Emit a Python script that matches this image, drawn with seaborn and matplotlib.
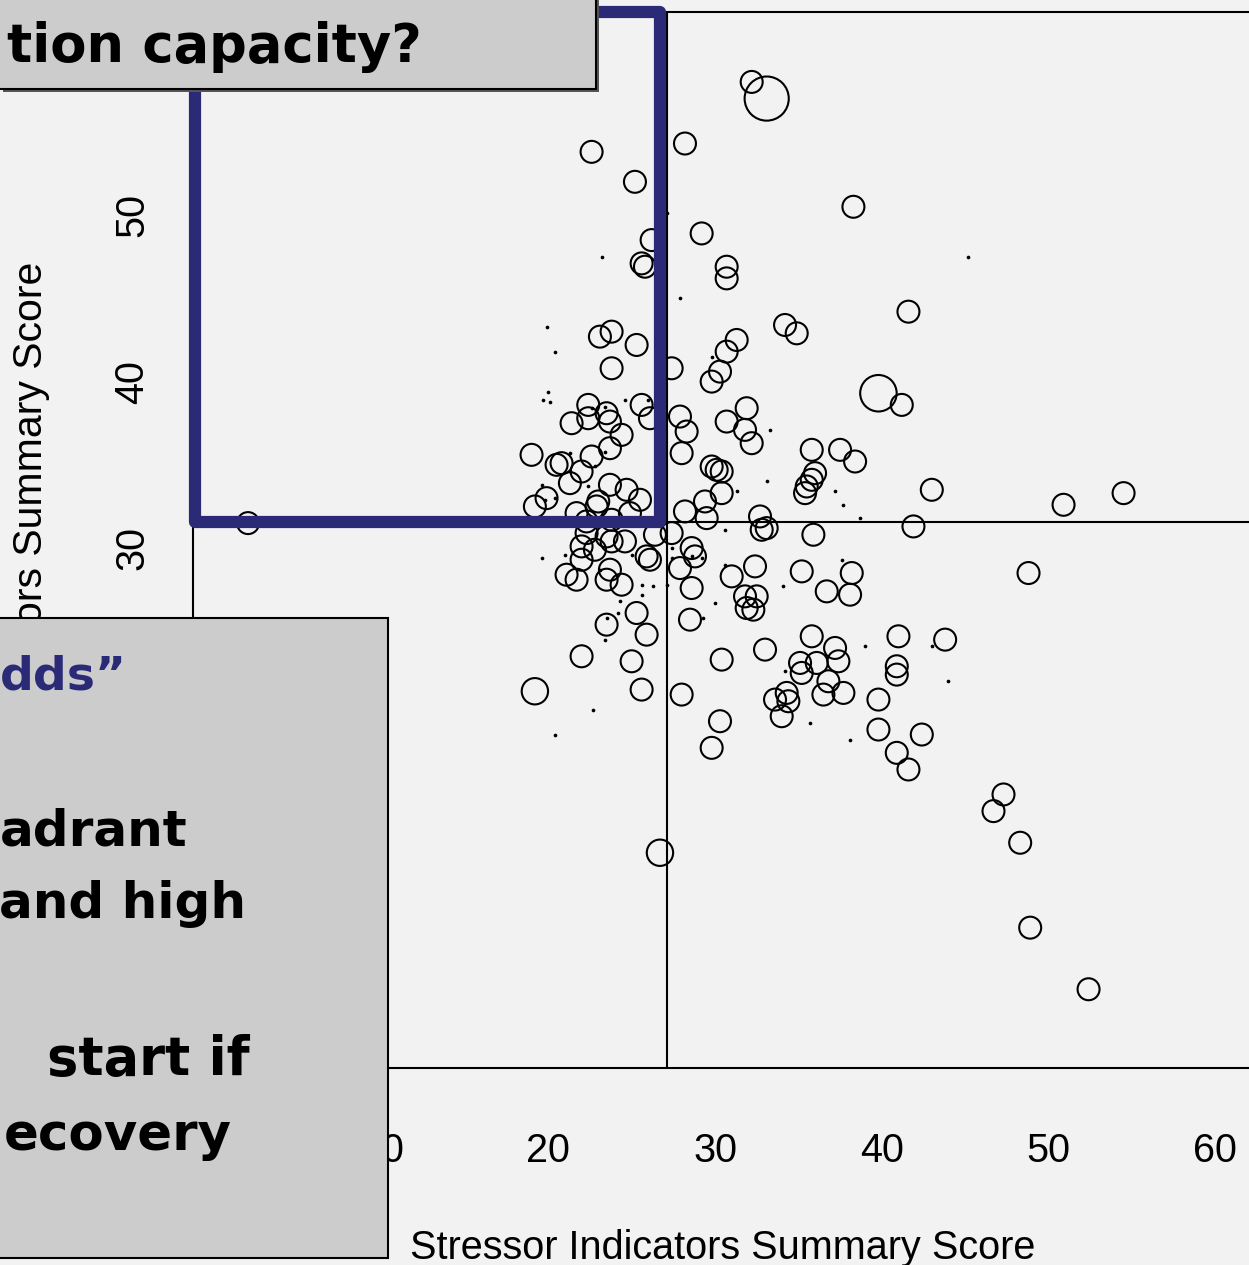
import matplotlib
matplotlib.use("Agg")
import matplotlib.pyplot as plt
import seaborn as sns
import pandas as pd
from matplotlib.patches import Rectangle

# ---------------- data ----------------
circ_x = [32.2, 33.1, 28.2, 22.6, 25.2, 38.3, 29.2, 26.2, 25.6, 25.8, 30.7, 30.7, 41.6, 34.2, 34.9,
          23.1, 23.8, 25.3, 31.3, 30.7, 23.8, 27.4, 30.3, 29.8, 39.8, 41.2, 25.6, 26.1, 22.4, 21.4,
          22.4, 23.5, 23.7, 24.4, 23.7, 27.9, 28.3, 28.0, 19.0, 20.5, 20.8, 22.6, 22.0, 31.9, 30.7,
          31.8, 32.2, 35.8, 37.5, 38.4, 36.0, 35.8, 35.5, 35.4, 29.8, 30.1, 30.4, 30.4, 29.4, 29.5,
          32.7, 32.8, 33.1, 35.9, 43.0, 41.9, 50.9, 54.5, 48.8, 43.8, 41.0, 40.9, 40.9, 39.8, 39.8,
          42.4, 40.9, 41.6, 47.3, 46.7, 48.3, 48.9, 52.4, 35.8, 37.2, 37.4, 33.0, 35.1, 35.2, 36.1,
          36.8, 36.5, 37.7, 34.3, 33.6, 34.4, 34.0, 30.4, 30.3, 29.8, 28.0, 26.7, 25.6, 25.0, 22.0,
          19.2, 25.9, 23.5, 25.3, 28.5, 28.6, 27.9, 31.0, 32.4, 31.8, 32.5, 31.9, 32.3, 35.2, 38.2,
          36.7, 38.1, 28.6, 28.8, 27.4, 28.2, 26.4, 25.9, 26.1, 21.1, 21.7, 23.7, 23.5, 24.4, 19.2,
          19.9, 21.3, 21.7, 22.3, 22.9, 23.0, 23.7, 24.7, 25.5, 24.9, 22.3, 22.0, 22.8, 23.5, 23.8,
          24.6, 22.0, 23.8, 2.0]
circ_y = [58.0, 57.0, 54.3, 53.8, 52.0, 50.5, 48.9, 48.5, 47.1, 46.9, 46.9, 46.2, 44.2, 43.4, 42.9,
          42.7, 43.0, 42.2, 42.5, 41.8, 40.8, 40.8, 40.6, 40.0, 39.3, 38.6, 38.6, 37.8, 38.6, 37.5,
          37.8, 38.1, 37.6, 36.8, 36.0, 37.9, 37.0, 35.7, 35.6, 35.0, 35.1, 35.5, 34.6, 38.4, 37.6,
          37.1, 36.3, 35.9, 35.9, 35.2, 34.5, 34.1, 33.7, 33.3, 34.9, 34.7, 34.6, 33.3, 32.8, 31.8,
          31.9, 31.1, 31.2, 30.8, 33.5, 31.3, 32.6, 33.3, 28.5, 24.5, 24.7, 22.9, 22.4, 20.9, 19.1,
          18.8, 17.7, 16.7, 15.2, 14.2, 12.3, 7.2, 3.5, 24.7, 24.0, 23.2, 23.9, 23.1, 22.5, 23.1,
          22.0, 21.2, 21.3, 21.3, 20.9, 20.8, 19.9, 23.3, 19.6, 18.0, 21.2, 11.7, 21.5, 23.2, 23.5,
          21.4, 24.8, 25.4, 26.1, 25.7, 27.6, 28.8, 28.3, 28.9, 27.1, 27.1, 26.4, 26.3, 28.6, 28.5,
          27.4, 27.2, 30.0, 29.5, 30.9, 32.2, 30.8, 29.5, 29.3, 28.4, 28.1, 28.7, 28.1, 27.8, 32.5,
          33.0, 33.9, 32.1, 31.6, 32.5, 32.8, 33.8, 33.5, 32.9, 32.1, 30.9, 30.1, 29.9, 30.7, 30.4,
          30.4, 29.3, 31.7, 31.5]
circ_w = [1, 4, 1, 1, 1, 1, 1, 1, 1, 1, 1, 1, 1, 1, 1,
          1, 1, 1, 1, 1, 1, 1, 1, 1, 3, 1, 1, 1, 1, 1,
          1, 1, 1, 1, 1, 1, 1, 1, 1, 1, 1, 1, 1, 1, 1,
          1, 1, 1, 1, 1, 1, 1, 1, 1, 1, 1, 1, 1, 1, 1,
          1, 1, 1, 1, 1, 1, 1, 1, 1, 1, 1, 1, 1, 1, 1,
          1, 1, 1, 1, 1, 1, 1, 1, 1, 1, 1, 1, 1, 1, 1,
          1, 1, 1, 1, 1, 1, 1, 1, 1, 1, 1, 2, 1, 1, 1,
          2, 1, 1, 1, 1, 1, 1, 1, 1, 1, 1, 1, 1, 1, 1,
          1, 1, 1, 1, 1, 1, 1, 1, 1, 1, 1, 1, 1, 1, 1,
          1, 1, 1, 1, 1, 1, 1, 1, 1, 1, 1, 1, 1, 1, 1,
          1, 1, 1, 1]

dot_x = [19.9, 20.4, 20.0, 19.7, 20.1, 24.6, 26.0, 22.6, 23.4, 23.4, 21.3, 22.8, 21.3, 23.2, 27.1,
         27.9, 45.2, 29.8, 33.3, 33.1, 37.2, 31.3, 37.7, 38.7, 30.6, 29.2, 30.6, 37.6, 34.1, 30.0,
         29.3, 39.0, 43.0, 44.0, 34.2, 35.7, 38.1, 23.4, 22.7, 20.4, 19.6, 19.8, 20.4, 22.4, 19.6,
         21.0, 25.6, 26.3, 25.6, 24.3, 24.2, 23.5, 27.1, 27.4, 27.4, 28.6, 23.1, 25.0]
dot_y = [43.3, 41.8, 39.4, 38.9, 38.8, 38.9, 38.9, 38.4, 38.5, 35.8, 35.7, 34.9, 34.6, 47.5, 50.1,
         45.0, 47.5, 41.5, 37.1, 34.0, 33.4, 33.4, 32.6, 31.8, 31.1, 29.4, 29.0, 29.3, 27.7, 26.7,
         25.8, 24.1, 24.1, 22.0, 22.6, 19.5, 18.5, 24.5, 20.3, 18.8, 33.8, 32.9, 33.0, 33.7, 29.4,
         29.6, 27.8, 27.7, 27.2, 26.8, 26.1, 25.8, 27.8, 30.0, 29.4, 29.5, 28.7, 29.6]

x_median = 27.14
y_median = 31.56
x_ticks = [10, 20, 30, 40, 50, 60]
y_ticks = [30, 40, 50]
x_label = "Stressor Indicators Summary Score"
y_label_visible = "ors Summary Score"

title_text = "tion capacity?"
box_lines = ["dds\u201d", "adrant", "and high", "start if", "ecovery"]

# ---------------- figure ----------------
W, H = 1249, 1265
BG = "#F2F2F2"
NAVY = "#2B2A77"
sns.set_style("white")
plt.rcParams["font.family"] = ["Liberation Sans", "DejaVu Sans"]
plt.rcParams["text.color"] = "black"
plt.rcParams["axes.labelcolor"] = "black"

fig = plt.figure(figsize=(W / 100, H / 100), dpi=100, facecolor=BG)
ax = fig.add_axes([193 / W, (H - 1068) / H, (1252 - 193) / W, (1068 - 12) / H])
ax.set_facecolor(BG)

circ = pd.DataFrame({"x": circ_x, "y": circ_y, "w": circ_w})
dots = pd.DataFrame({"x": dot_x, "y": dot_y})

sns.scatterplot(data=circ, x="x", y="y", size="w", sizes={1: 250, 2: 360, 3: 690, 4: 1010},
                facecolors="none", edgecolor="black", linewidth=1.5, legend=False, ax=ax, zorder=3)
sns.scatterplot(data=dots, x="x", y="y", s=7, color="black", linewidth=0, ax=ax, zorder=3)

ax.axvline(x_median, color="black", lw=1.5, zorder=2)
ax.axhline(y_median, color="black", lw=1.5, zorder=2)

ax.set_xlim(-1.3, 62.2)
ax.set_ylim(-1.23, 62.2)
ax.set_xticks(x_ticks)
ax.set_yticks(y_ticks)
ax.tick_params(axis="both", direction="out", length=16, width=1.3, labelsize=28.5,
               colors="black", labelcolor="black")
ax.tick_params(axis="x", pad=30)
ax.tick_params(axis="y", pad=14)
for lab in ax.get_yticklabels():
    lab.set_rotation(90)
    lab.set_va("center")
for s in ax.spines.values():
    s.set_color("black")
    s.set_linewidth(1.5)

ax.set_xlabel(x_label, fontsize=28.5, color="black")
ax.set_ylabel("")
ax.xaxis.set_label_coords(0.5, -0.152)
ax.xaxis.label.set_va("top")

fig.text(31 / W, 1 - 262 / H, y_label_visible, rotation=90, ha="center", va="top", fontsize=29.5,
         color="black")


def fx(px):
    return px / W


def fy(py):
    return 1 - py / H


def box(x0, y0, x1, y1, **kw):
    r = Rectangle((fx(x0), fy(y1)), (x1 - x0) / W, (y1 - y0) / H, transform=fig.transFigure, **kw)
    fig.add_artist(r)


# blue highlight rectangle
box(195, 12, 660, 522, fc="none", ec=NAVY, lw=8.8, joinstyle="round", zorder=5)

# title box
box(3, -20, 599, 92, fc="#555555", ec="none", zorder=9)
box(-10, -20, 596, 89, fc="#CCCCCC", ec="black", lw=1.5, zorder=10)
tfont = dict(family=["DejaVu Sans"], fontweight="bold", zorder=11, color="black")
fig.text(fx(422), fy(62), title_text, ha="right", va="baseline", fontsize=38, **tfont)

# left text box
box(-10, 618, 388, 1258, fc="#CCCCCC", ec="black", lw=1.5, zorder=10)
bf = dict(tfont)
bf["color"] = NAVY
fig.text(fx(127), fy(690), box_lines[0], ha="right", va="baseline", fontsize=34, **bf)
fig.text(fx(187), fy(845), box_lines[1], ha="right", va="baseline", fontsize=36, **tfont)
fig.text(fx(246), fy(918), box_lines[2], ha="right", va="baseline", fontsize=36, **tfont)
fig.text(fx(250), fy(1075), box_lines[3], ha="right", va="baseline", fontsize=38, **tfont)
fig.text(fx(232), fy(1150), box_lines[4], ha="right", va="baseline", fontsize=37, **tfont)

fig.savefig("out.png", dpi=100, facecolor=BG)
